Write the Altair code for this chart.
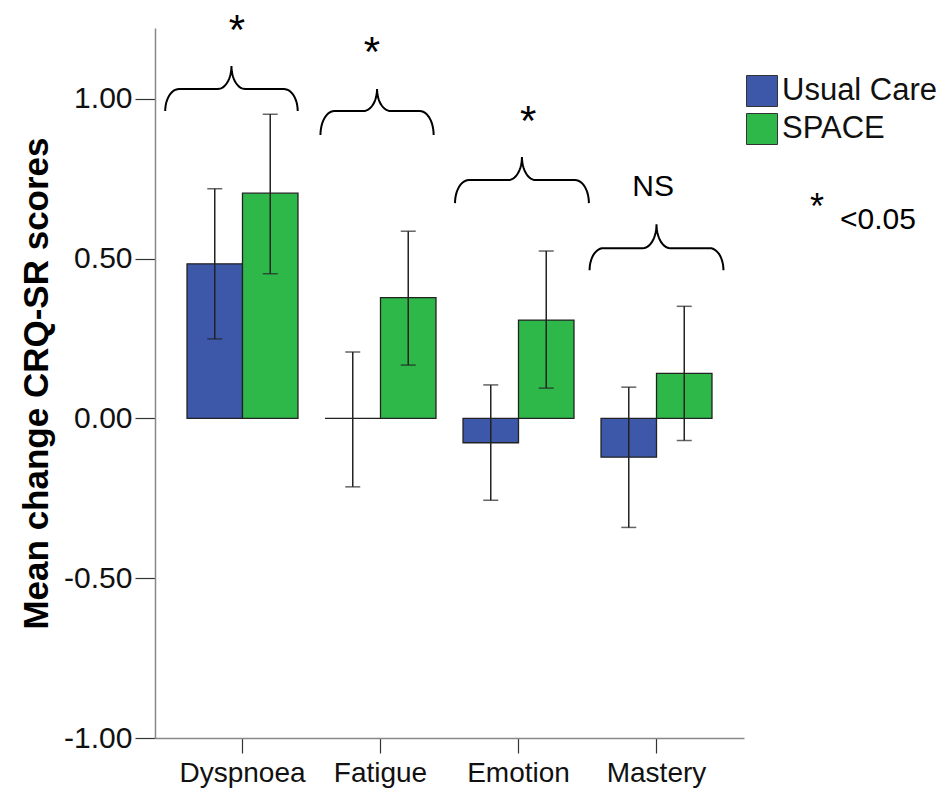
import altair as alt
import numpy as np
import pandas as pd

FONT = "Liberation Sans"

categories = ["Dyspnoea", "Fatigue", "Emotion", "Mastery"]
groups = ["Usual Care", "SPACE"]
colors = ["#3d57a9", "#2eb84a"]

uc_mean = [0.484, 0.0, -0.076, -0.121]
uc_low = [0.249, -0.214, -0.256, -0.341]
uc_high = [0.719, 0.208, 0.105, 0.098]
space_mean = [0.705, 0.378, 0.308, 0.141]
space_low = [0.453, 0.167, 0.095, -0.069]
space_high = [0.952, 0.586, 0.524, 0.351]

# significance braces (x in category units, y in score units)
brace_center = [-0.08, 0.975, 2.025, 3.0]
brace_half = [0.48, 0.41, 0.485, 0.485]
brace_end = [0.962, 0.887, 0.674, 0.464]
brace_arm = [1.031, 0.962, 0.746, 0.533]
brace_peak = [1.103, 1.031, 0.818, 0.608]
sig_labels = ["*", "*", "*", "NS"]
sig_x = [-0.04, 0.938, 2.07, 2.975]
sig_y = [1.171, 1.102, 0.886, 0.696]
sig_size = [42, 42, 42, 30]

note_labels = ["*", "<0.05"]
note_x = [4.163, 4.33]
note_y = [0.624, 0.593]
note_size = [36, 30]
note_align = ["center", "left"]

rows = []
for i, c in enumerate(categories):
    rows.append({"cat": c, "grp": groups[0], "mean": uc_mean[i], "lo": uc_low[i], "hi": uc_high[i]})
    rows.append({"cat": c, "grp": groups[1], "mean": space_mean[i], "lo": space_low[i], "hi": space_high[i]})
df = pd.DataFrame(rows)

brows = []
r1, r2 = 0.1, 0.1
t = np.linspace(0, np.pi / 2, 14)
for b in range(len(brace_center)):
    c, w = brace_center[b], brace_half[b]
    yE, yA, yP = brace_end[b], brace_arm[b], brace_peak[b]
    left = []
    for tt in t:
        left.append((c - w + r1 - r1 * np.cos(tt), yE + (yA - yE) * np.sin(tt)))
    for tt in t:
        left.append((c - r2 + r2 * np.sin(tt), yP - (yP - yA) * np.cos(tt)))
    pts = left + [(2 * c - x, y) for (x, y) in reversed(left)]
    for k, (x, y) in enumerate(pts):
        brows.append({"b": b, "k": k, "x": x, "y": y})
bdf = pd.DataFrame(brows)

sdf = pd.DataFrame({"label": sig_labels, "x": sig_x, "y": sig_y, "fs": sig_size})
ndf = pd.DataFrame({"label": note_labels, "x": note_x, "y": note_y, "fs": note_size, "al": note_align})

x_scale = alt.Scale(paddingInner=0.196, paddingOuter=0.232)
x_enc = alt.X("cat:N", sort=categories, scale=x_scale, title=None,
              axis=alt.Axis(labelAngle=0, labelFontSize=28, labelFont=FONT, labelColor="#111",
                            domainColor="#888", domainWidth=1.5, tickColor="#333", tickWidth=1.2,
                            tickSize=15, labelPadding=6))
xo_enc = alt.XOffset("grp:N", sort=groups, scale=alt.Scale(paddingInner=0, paddingOuter=0))
y_scale = alt.Scale(domain=[-1, 1.222], nice=False, zero=False)
y_enc = alt.Y("mean:Q", scale=y_scale,
              axis=alt.Axis(values=[-1, -0.5, 0, 0.5, 1],
                            labelExpr="replace(format(datum.value, '.2f'), '\u2212', '-')",
                            labelFontSize=30, labelFont=FONT, labelColor="#111",
                            domainColor="#888", domainWidth=1.5, tickColor="#333", tickWidth=1.2,
                            tickSize=20, labelPadding=3, grid=False,
                            title="Mean change CRQ-SR scores", titleFont=FONT, titleFontSize=35,
                            titleFontWeight="bold", titleColor="#000", titleX=-119, titleY=355,
                            titleAlign="center", titleBaseline="middle", titleAngle=-90))

bars = alt.Chart(df).mark_bar(stroke="#222", strokeWidth=1.3).encode(
    x=x_enc, xOffset=xo_enc, y=y_enc,
    color=alt.Color("grp:N", sort=groups, scale=alt.Scale(domain=groups, range=colors),
                    legend=alt.Legend(title=None, orient="none", legendX=591, legendY=47,
                                      symbolType="square", symbolSize=961, symbolOpacity=1,
                                      symbolStrokeColor="#333", symbolStrokeWidth=1,
                                      labelFontSize=31, labelFont=FONT, labelColor="#111",
                                      labelOffset=4, rowPadding=2, padding=0)),
)

rules = alt.Chart(df).mark_rule(color="#222", strokeWidth=1.5).encode(
    x=x_enc, xOffset=xo_enc, y=alt.Y("lo:Q", scale=y_scale), y2="hi:Q")
caps_lo = alt.Chart(df).mark_tick(color="#222", thickness=1.5, size=15).encode(
    x=x_enc, xOffset=xo_enc, y=alt.Y("lo:Q", scale=y_scale))
caps_hi = alt.Chart(df).mark_tick(color="#222", thickness=1.5, size=15).encode(
    x=x_enc, xOffset=xo_enc, y=alt.Y("hi:Q", scale=y_scale))

base = alt.layer(bars, rules, caps_lo, caps_hi)

ax = alt.Scale(domain=[-0.634, 3.634], nice=False, zero=False)
braces = alt.Chart(bdf).mark_line(color="#000", strokeWidth=2).encode(
    x=alt.X("x:Q", scale=ax, axis=None),
    y=alt.Y("y:Q", scale=y_scale),
    detail="b:N", order="k:Q")
sig = alt.Chart(sdf).mark_text(baseline="alphabetic", align="center", font=FONT, color="#000").encode(
    x=alt.X("x:Q", scale=ax, axis=None),
    y=alt.Y("y:Q", scale=y_scale),
    text="label:N", size=alt.Size("fs:Q", scale=None))
note_star = alt.Chart(ndf[ndf["al"] == "center"]).mark_text(baseline="alphabetic", align="center", font=FONT, color="#000").encode(
    x=alt.X("x:Q", scale=ax, axis=None), y=alt.Y("y:Q", scale=y_scale),
    text="label:N", size=alt.Size("fs:Q", scale=None))
note_txt = alt.Chart(ndf[ndf["al"] == "left"]).mark_text(baseline="alphabetic", align="left", font=FONT, color="#000").encode(
    x=alt.X("x:Q", scale=ax, axis=None), y=alt.Y("y:Q", scale=y_scale),
    text="label:N", size=alt.Size("fs:Q", scale=None))

annot = alt.layer(braces, sig, note_star, note_txt)

chart = alt.layer(base, annot).resolve_scale(x="independent").properties(
    width=589, height=710,
    padding={"left": 155, "top": 28, "right": 203, "bottom": 51},
    autosize=alt.AutoSizeParams(type="none"),
).configure_view(stroke=None)

chart.save("out.html", embed_options={"renderer": "svg", "actions": False})
